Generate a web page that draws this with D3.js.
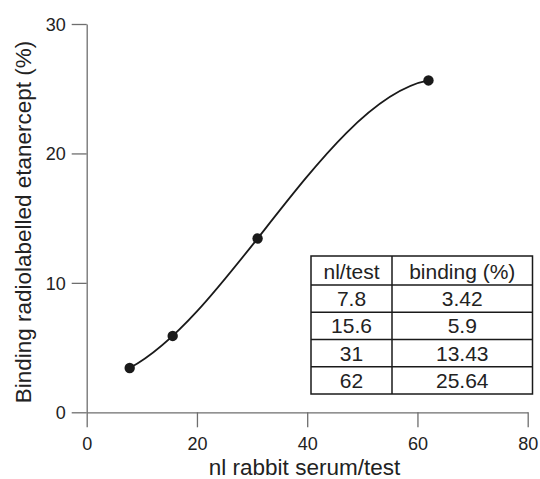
<!DOCTYPE html>
<html><head><meta charset="utf-8">
<script src="https://cdn.jsdelivr.net/npm/d3@7"></script>
<style>body{margin:0;background:#fff}svg{display:block}text{font-family:"Liberation Sans",Arial,Helvetica,sans-serif}</style>
</head><body>
<svg id="c" width="540" height="479"></svg>
<script>
const doses = [7.8, 15.6, 31, 62];
const binding = [3.42, 5.9, 13.43, 25.64];
const tableDoseLabels = ["7.8", "15.6", "31", "62"];
const tableBindingLabels = ["3.42", "5.9", "13.43", "25.64"];
const tableHeaders = ["nl/test", "binding (%)"];
const xTicks = [0, 20, 40, 60, 80];
const yTicks = [0, 10, 20, 30];
const xTitle = "nl rabbit serum/test";
const yTitle = "Binding radiolabelled etanercept (%)";

const svg = d3.select("#c");
const x = d3.scaleLinear().domain([0, 80]).range([86.7, 527.7]);
const y = d3.scaleLinear().domain([0, 30]).range([412.3, 24]);
const axisColor = "#6e6e6e", textColor = "#222";

const gx = svg.append("g").attr("transform", `translate(0,${y(0)})`)
  .call(d3.axisBottom(x).tickValues(xTicks).tickSize(15).tickSizeOuter(0).tickPadding(6));
const gy = svg.append("g").attr("transform", `translate(${x(0)},0)`)
  .call(d3.axisLeft(y).tickValues(yTicks).tickSize(15).tickSizeOuter(0).tickPadding(6));
[gx, gy].forEach(g => {
  g.select(".domain").attr("stroke", axisColor).attr("stroke-width", 1.3);
  g.selectAll(".tick line").attr("stroke", axisColor).attr("stroke-width", 1.3);
  g.selectAll(".tick text").attr("fill", textColor).style("font-size", "18px");
});
gx.selectAll(".tick text").attr("dy", "0.95em");
gy.selectAll(".tick text").attr("dy", "0.35em");

svg.append("text").attr("x", 304.5).attr("y", 475)
  .attr("text-anchor", "middle").attr("fill", textColor).style("font-size", "22.5px").text(xTitle);
svg.append("text").attr("transform", `translate(31,222) rotate(-90)`)
  .attr("text-anchor", "middle").attr("fill", textColor).style("font-size", "22.5px").text(yTitle);

// smooth curve: the cubic through the four measured points, drawn as one Bezier segment
const n = doses.length;
const dd = binding.slice();
for (let j = 1; j < n; j++) for (let i = n - 1; i >= j; i--)
  dd[i] = (dd[i] - dd[i - 1]) / (doses[i] - doses[i - j]);
function deriv(t) {
  // derivative of Newton form polynomial
  let p = dd[n - 1], dp = 0;
  for (let i = n - 2; i >= 0; i--) { dp = dp * (t - doses[i]) + p; p = p * (t - doses[i]) + dd[i]; }
  return dp;
}
const x0 = doses[0], x3 = doses[n - 1], y0 = binding[0], y3 = binding[n - 1], h = x3 - x0;
const cp1 = [x0 + h / 3, y0 + deriv(x0) * h / 3];
const cp2 = [x3 - h / 3, y3 - deriv(x3) * h / 3];
const path = d3.path();
path.moveTo(x(x0), y(y0));
path.bezierCurveTo(x(cp1[0]), y(cp1[1]), x(cp2[0]), y(cp2[1]), x(x3), y(y3));
svg.append("path").attr("d", path.toString())
  .attr("fill", "none").attr("stroke", "#1a1a1a").attr("stroke-width", 1.8);

const pts = doses.map((d, i) => [d, binding[i]]);
svg.selectAll("circle.pt").data(pts).join("circle").attr("class", "pt")
  .attr("cx", d => x(d[0])).attr("cy", d => y(d[1])).attr("r", 5.2).attr("fill", "#1a1a1a");

// table
const tL = 311, tR = 532.5, tMid = 392, tTop = 256, hdrB = 285, rowH = 27.25;
const tbl = svg.append("g");
const tBot = hdrB + rowH * doses.length;
tbl.append("rect").attr("x", tL).attr("y", tTop).attr("width", tR - tL).attr("height", tBot - tTop)
  .attr("fill", "#fff").attr("stroke", "#1a1a1a").attr("stroke-width", 1.5);
tbl.append("line").attr("x1", tMid).attr("x2", tMid).attr("y1", tTop).attr("y2", tBot)
  .attr("stroke", "#1a1a1a").attr("stroke-width", 1.5);
const rowLines = d3.range(doses.length).map(i => hdrB + i * rowH);
tbl.selectAll("line.r").data(rowLines).join("line").attr("class", "r")
  .attr("x1", tL).attr("x2", tR).attr("y1", d => d).attr("y2", d => d)
  .attr("stroke", "#1a1a1a").attr("stroke-width", 1.5);
const c1 = (tL + tMid) / 2, c2 = (tMid + tR) / 2;
tbl.selectAll("text.h").data(tableHeaders).join("text").attr("class", "h")
  .attr("x", (d, i) => i === 0 ? c1 : c2).attr("y", 279)
  .attr("text-anchor", "middle").attr("fill", textColor).style("font-size", "21px").text(d => d);
tbl.selectAll("text.d").data(tableDoseLabels).join("text").attr("class", "d")
  .attr("x", c1).attr("y", (d, i) => hdrB + i * rowH + 21)
  .attr("text-anchor", "middle").attr("fill", textColor).style("font-size", "21px").text(d => d);
tbl.selectAll("text.b").data(tableBindingLabels).join("text").attr("class", "b")
  .attr("x", c2).attr("y", (d, i) => hdrB + i * rowH + 21)
  .attr("text-anchor", "middle").attr("fill", textColor).style("font-size", "21px").text(d => d);
</script>
</body></html>
